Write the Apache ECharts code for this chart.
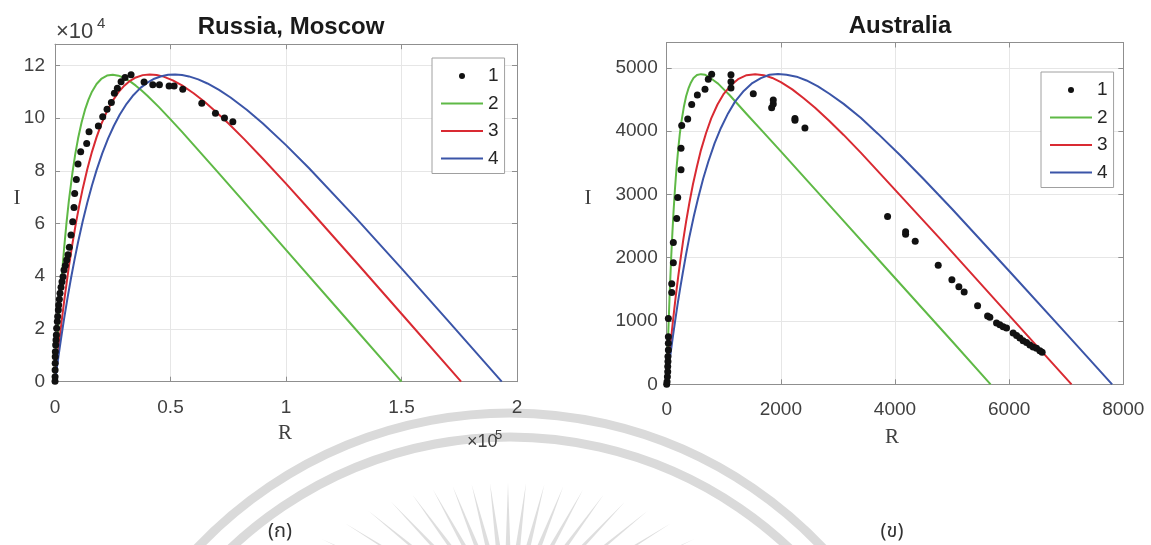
<!DOCTYPE html>
<html>
<head>
<meta charset="utf-8">
<script src="https://cdn.jsdelivr.net/npm/echarts@6/dist/echarts.min.js"></script>
<style>
  html, body { margin: 0; padding: 0; background: #ffffff; }
  #chart { width: 1151px; height: 545px; }
</style>
</head>
<body>
<div id="chart"></div>
<script>
// ---------- Russia, Moscow: observed points and model curves, [R, I] ----------
const moscowObserved = [
  [10, 200], [30, 1900], [50, 4400], [80, 7000], [100, 9500], [140, 11400], [290, 13900],
  [430, 15800], [580, 17700], [720, 20300], [1010, 22800], [1160, 24700], [1440, 27200],
  [1590, 29100], [1880, 31300], [2170, 33500], [2600, 35800], [3030, 37900], [3470, 39800],
  [3900, 42400], [4480, 44100], [5060, 46200], [5630, 48100], [6210, 51000], [6930, 55600],
  [7660, 60700], [8230, 66100], [8520, 71400], [9240, 76700], [9970, 82600], [11120, 87200],
  [13720, 90300], [14730, 94800], [18770, 97000], [20660, 100500], [22530, 103300],
  [24400, 105900], [25700, 109400], [27000, 111300], [28600, 113800], [30330, 115400],
  [32930, 116400], [38560, 113700], [42320, 112600], [45210, 112600], [49390, 112100],
  [51560, 112100], [55310, 110900], [63550, 105600], [69460, 101800], [73370, 100000],
  [76980, 98600]
];
const moscowModel2 = [
  [0, 0], [500, 7850], [1000, 15230], [1500, 22190], [2000, 28700], [2500, 34850],
  [3000, 40620], [4000, 51140], [5000, 60400], [6000, 68560], [7500, 78960], [8750, 86200],
  [10000, 92300], [11500, 98320], [13000, 103160], [14500, 107000], [16000, 110000],
  [18000, 112920], [20000, 114820], [22500, 116100], [25000, 116450], [27500, 116070],
  [30000, 115170], [32500, 113880], [35000, 112280], [37500, 110460], [40000, 108460],
  [45000, 104130], [50000, 99510], [55000, 94720], [60000, 89840], [70000, 79950],
  [80000, 69990], [100000, 50000], [125000, 25000], [150000, 0]
];
const moscowModel3 = [
  [0, 0], [1000, 8450], [2000, 16390], [3000, 23850], [4000, 30860], [6000, 43610],
  [7500, 52130], [9000, 59880], [10500, 66890], [12000, 73210], [14000, 80690],
  [16000, 87180], [18000, 92770], [20000, 97580], [22500, 102580], [25000, 106620],
  [27500, 109820], [30000, 112270], [32500, 114120], [35000, 115380], [38000, 116270],
  [41000, 116550], [44000, 116330], [47000, 115700], [51000, 114290], [55000, 112380],
  [60000, 109410], [65000, 105950], [70000, 102120], [75000, 98010], [82000, 91910],
  [90000, 84580], [100000, 75100], [110000, 65400], [130000, 45670], [150000, 25760],
  [175800, 0]
];
const moscowModel4 = [
  [0, 0], [500, 3270], [1000, 6470], [1500, 9600], [2000, 12650], [3000, 18560],
  [4000, 24190], [5500, 32180], [7000, 39610], [8500, 46510], [10000, 52960],
  [12000, 60850], [14000, 67990], [16000, 74420], [18000, 80240], [20500, 86680],
  [23000, 92270], [25500, 97080], [28000, 101240], [31000, 105400], [34000, 108760],
  [37000, 111420], [40000, 113430], [43000, 114900], [46000, 115860], [49000, 116380],
  [52000, 116520], [55000, 116310], [58000, 115780], [62000, 114650], [66000, 113100],
  [71000, 110680], [76000, 107790], [83000, 103130], [90000, 97910], [100000, 89730],
  [110000, 80960], [130000, 62340], [150000, 42970], [170000, 23260], [193400, 0]
];

// ---------- Australia: observed points and model curves, [R, I] ----------
const australiaObserved = [
  [0, 0], [6, 40], [12, 120], [18, 200], [18, 280], [22, 360], [22, 440], [29, 540],
  [29, 650], [29, 750], [29, 1040], [88, 1450], [88, 1590], [116, 1920], [116, 2240],
  [175, 2620], [193, 2950], [251, 3390], [251, 3730], [263, 4090], [368, 4190], [438, 4420],
  [537, 4570], [671, 4660], [729, 4820], [788, 4900], [1126, 4680], [1126, 4780],
  [1126, 4890], [1517, 4590], [1839, 4370], [1867, 4430], [1867, 4490], [2247, 4170],
  [2247, 4200], [2422, 4050], [3870, 2650], [4186, 2370], [4186, 2410], [4354, 2260],
  [4757, 1880], [4997, 1650], [5119, 1540], [5212, 1460], [5447, 1240], [5622, 1080],
  [5662, 1060], [5779, 970], [5837, 940], [5895, 910], [5954, 890], [6070, 810],
  [6130, 770], [6188, 730], [6245, 690], [6305, 660], [6363, 620], [6420, 590],
  [6480, 570], [6538, 530], [6578, 505]
];
const australiaModel2 = [
  [0, 0], [5, 158], [10, 310], [25, 740], [50, 1380], [80, 2030], [100, 2400],
  [120, 2730], [145, 3090], [170, 3390], [200, 3700], [230, 3960], [265, 4190],
  [300, 4380], [340, 4550], [380, 4670], [425, 4770], [470, 4840], [530, 4885],
  [600, 4900], [675, 4890], [750, 4850], [825, 4800], [900, 4750], [1000, 4660],
  [1100, 4570], [1250, 4420], [1400, 4270], [1700, 3975], [2000, 3680], [3000, 2680],
  [4000, 1680], [5000, 680], [5675, 0]
];
const australiaModel3 = [
  [0, 0], [10, 100], [20, 197], [30, 290], [45, 433], [60, 570], [80, 747], [100, 920],
  [130, 1165], [160, 1400], [200, 1690], [240, 1960], [290, 2280], [340, 2570],
  [400, 2880], [460, 3160], [530, 3440], [600, 3700], [690, 3970], [780, 4200],
  [890, 4420], [1000, 4590], [1120, 4720], [1250, 4820], [1400, 4884], [1550, 4900],
  [1700, 4884], [1850, 4840], [2000, 4774], [2200, 4660], [2400, 4520], [2600, 4370],
  [2850, 4160], [3100, 3940], [3400, 3660], [3800, 3270], [4800, 2290], [6000, 1090],
  [7093, 0]
];
const australiaModel4 = [
  [0, 0], [10, 70], [20, 147], [30, 220], [50, 360], [70, 500], [95, 665], [120, 830],
  [155, 1047], [190, 1260], [235, 1512], [280, 1750], [340, 2056], [400, 2340],
  [475, 2654], [550, 2940], [640, 3250], [730, 3520], [840, 3810], [950, 4050],
  [1075, 4280], [1200, 4470], [1350, 4635], [1500, 4760], [1650, 4837], [1800, 4890],
  [1950, 4902], [2100, 4890], [2275, 4860], [2450, 4800], [2650, 4707], [2850, 4590],
  [3100, 4430], [3400, 4210], [3700, 3960], [4100, 3610], [4500, 3243], [5000, 2770],
  [6000, 1790], [7000, 800], [7804, 0]
];

// ---------- tick labels ----------
const moscowXTicks = ['0', '0.5', '1', '1.5', '2'];          // R in units of 1e5
const moscowYTicks = ['0', '2', '4', '6', '8', '10', '12'];  // I in units of 1e4
const australiaXTicks = ['0', '2000', '4000', '6000', '8000'];
const australiaYTicks = ['0', '1000', '2000', '3000', '4000', '5000'];

const legendNames = ['1', '2', '3', '4'];
const titles = ['Russia, Moscow', 'Australia'];
const panelTags = ['(ก)', '(ข)'];

// ---------- styling ----------
const SANS = '"Liberation Sans", Arial, Helvetica, sans-serif';
const SERIF = '"Liberation Serif", "DejaVu Serif", serif';
const THAI = '"Noto Sans Thai", "Noto Sans", "DejaVu Sans", sans-serif';
const AXIS_COLOR = '#8f8f8f';
const GRID_COLOR = '#e6e6e6';
const TICK_TEXT = '#404040';
const GREEN = '#5fb946';
const RED = '#d92a32';
const BLUE = '#3b55a8';
const DOT = '#111111';
const WATERMARK = '#dadada';

function bottomX(gridIndex, max, interval, labels, margin) {
  return {
    gridIndex, type: 'value', position: 'bottom', min: 0, max, interval,
    axisLine: { show: true, onZero: false, lineStyle: { color: AXIS_COLOR, width: 1 } },
    axisTick: { show: true, inside: true, length: 5, lineStyle: { color: AXIS_COLOR } },
    axisLabel: {
      formatter: v => labels[Math.round(v / interval)] ?? '',
      fontSize: 19, color: TICK_TEXT, fontFamily: SANS, margin
    },
    splitLine: { show: true, lineStyle: { color: GRID_COLOR, width: 1 } }
  };
}
function topX(gridIndex, max, interval) {
  return {
    gridIndex, type: 'value', position: 'top', min: 0, max, interval,
    axisLine: { show: true, onZero: false, lineStyle: { color: AXIS_COLOR, width: 1 } },
    axisTick: { show: true, inside: true, length: 5, lineStyle: { color: AXIS_COLOR } },
    axisLabel: { show: false }, splitLine: { show: false }
  };
}
function leftY(gridIndex, max, interval, labels, margin) {
  return {
    gridIndex, type: 'value', position: 'left', min: 0, max, interval,
    axisLine: { show: true, onZero: false, lineStyle: { color: AXIS_COLOR, width: 1 } },
    axisTick: { show: true, inside: true, length: 5, lineStyle: { color: AXIS_COLOR } },
    axisLabel: {
      formatter: v => (v % interval === 0 ? (labels[v / interval] ?? '') : ''),
      showMaxLabel: false,
      fontSize: 19, color: TICK_TEXT, fontFamily: SANS, margin
    },
    splitLine: { show: true, lineStyle: { color: GRID_COLOR, width: 1 } }
  };
}
function rightY(gridIndex, max, interval) {
  return {
    gridIndex, type: 'value', position: 'right', min: 0, max, interval,
    axisLine: { show: true, onZero: false, lineStyle: { color: AXIS_COLOR, width: 1 } },
    axisTick: { show: true, inside: true, length: 5, lineStyle: { color: AXIS_COLOR } },
    axisLabel: { show: false }, splitLine: { show: false }
  };
}

function scatter(data, xi, yi) {
  return {
    name: legendNames[0], type: 'scatter', data, xAxisIndex: xi, yAxisIndex: yi,
    symbol: 'circle', symbolSize: 7, itemStyle: { color: DOT, opacity: 1 }, z: 5, silent: true
  };
}
function curve(name, data, color, xi, yi) {
  return {
    name, type: 'line', data, xAxisIndex: xi, yAxisIndex: yi,
    symbol: 'none', showSymbol: false, smooth: false,
    lineStyle: { color, width: 2, join: 'round' }, itemStyle: { color }, z: 3, silent: true
  };
}

function legendAt(left, top) {
  return {
    data: [
      { name: legendNames[0] },
      { name: legendNames[1], itemStyle: { opacity: 0 } },
      { name: legendNames[2], itemStyle: { opacity: 0 } },
      { name: legendNames[3], itemStyle: { opacity: 0 } }
    ],
    orient: 'vertical', left, top,
    itemWidth: 42, itemHeight: 6, itemGap: 7.5,
    padding: [8, 6, 5, 8],
    borderColor: '#a0a0a0', borderWidth: 1, backgroundColor: '#ffffff',
    textStyle: { fontSize: 19, color: '#262626', fontFamily: SANS, lineHeight: 20 },
    selectedMode: false
  };
}

// Decorative emblem behind the lower part of the figure: two arches and a fan of rays
function emblem() {
  const els = [];
  const cx = 510, cy = 843;
  [430, 406].forEach(r => {
    els.push({
      type: 'arc', silent: true, z: -10,
      shape: { cx, cy, r, startAngle: Math.PI + 0.6, endAngle: 2 * Math.PI - 0.6, clockwise: true },
      style: { stroke: WATERMARK, fill: null, lineWidth: 9 }
    });
  });
  const rcx = 508, rcy = 625;
  for (let k = -9; k <= 9; k++) {
    const deg = k * 7.25;
    const t = deg * Math.PI / 180;
    const rt = 142 + 63 * Math.pow(deg / 65, 2);
    const rb = 70, hw = 2.6;
    const dx = Math.sin(t), dy = -Math.cos(t);
    const px = Math.cos(t), py = Math.sin(t);
    els.push({
      type: 'polygon', silent: true, z: -10,
      shape: { points: [
        [rcx + rt * dx, rcy + rt * dy],
        [rcx + rb * dx + hw * px, rcy + rb * dy + hw * py],
        [rcx + rb * dx - hw * px, rcy + rb * dy - hw * py]
      ] },
      style: { fill: '#dedede' }
    });
  }
  return els;
}

function label(text, x, y, font, size, opts = {}) {
  return {
    type: 'text', silent: true, x, y, z: 20,
    style: Object.assign({
      text, fontFamily: font, fontSize: size, fill: TICK_TEXT,
      align: 'center', verticalAlign: 'middle'
    }, opts)
  };
}

const option = {
  backgroundColor: '#ffffff',
  animation: false,
  title: [
    { text: titles[0], left: 286, top: 10, textAlign: 'center',
      textStyle: { fontSize: 24, fontWeight: 'bold', color: '#1a1a1a', fontFamily: SANS } },
    { text: titles[1], left: 895, top: 9, textAlign: 'center',
      textStyle: { fontSize: 24, fontWeight: 'bold', color: '#1a1a1a', fontFamily: SANS } }
  ],
  grid: [
    { left: 55, top: 44.2, width: 462, height: 337.5, containLabel: false },
    { left: 666.7, top: 42.5, width: 456.6, height: 341.8, containLabel: false }
  ],
  xAxis: [
    bottomX(0, 200000, 50000, moscowXTicks, 17),
    topX(0, 200000, 50000),
    bottomX(1, 8000, 2000, australiaXTicks, 16),
    topX(1, 8000, 2000)
  ],
  yAxis: [
    leftY(0, 128000, 20000, moscowYTicks, 10),
    rightY(0, 128000, 20000),
    leftY(1, 5400, 1000, australiaYTicks, 9),
    rightY(1, 5400, 1000)
  ],
  legend: [legendAt(432, 58), legendAt(1041, 72)],
  series: [
    scatter(moscowObserved, 0, 0),
    curve(legendNames[1], moscowModel2, GREEN, 0, 0),
    curve(legendNames[2], moscowModel3, RED, 0, 0),
    curve(legendNames[3], moscowModel4, BLUE, 0, 0),
    scatter(australiaObserved, 2, 2),
    curve(legendNames[1], australiaModel2, GREEN, 2, 2),
    curve(legendNames[2], australiaModel3, RED, 2, 2),
    curve(legendNames[3], australiaModel4, BLUE, 2, 2)
  ],
  graphic: [].concat(
    emblem(),
    [
      // exponent markers
      label('×10', 56, 32, SANS, 22, { align: 'left' }),
      label('4', 97, 24, SANS, 15, { align: 'left' }),
      label('×10', 467, 442, SANS, 18, { align: 'left' }),
      label('5', 495, 435, SANS, 13, { align: 'left' }),
      // axis names
      label('R', 285, 433, SERIF, 21),
      label('R', 892, 437, SERIF, 21),
      label('I', 17, 198, SERIF, 21),
      label('I', 588, 198, SERIF, 21),
      // panel tags
      label(panelTags[0], 280, 533, THAI, 20, { fill: '#333333' }),
      label(panelTags[1], 892, 533, THAI, 20, { fill: '#333333' })
    ]
  )
};

const chart = echarts.init(document.getElementById('chart'), null, { renderer: 'canvas' });
chart.setOption(option);
</script>
</body>
</html>
